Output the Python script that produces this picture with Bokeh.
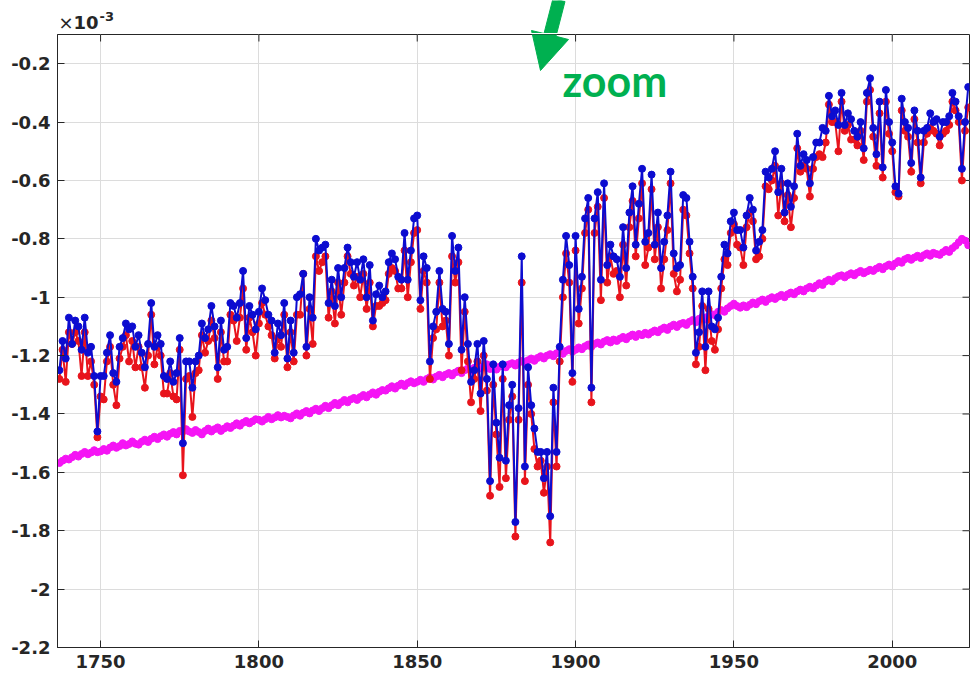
from bokeh.plotting import figure
from bokeh.layouts import column
from bokeh.models import Range1d, FixedTicker, Label, ColumnDataSource
from bokeh.embed import file_html
from bokeh.resources import INLINE

# ---------------- data (values in units of 1e-3) ----------------
years = list(range(1737, 2025))

blue_series = [
    # 1737-1810
    -1.25, -1.15, -1.21, -1.07, -1.16, -1.08, -1.10, -1.18, -1.07, -1.19,
    -1.17, -1.27, -1.46, -1.27, -1.27, -1.19, -1.13, -1.26, -1.29, -1.17,
    -1.14, -1.09, -1.11, -1.10, -1.17, -1.13, -1.19, -1.24, -1.16, -1.02,
    -1.17, -1.13, -1.16, -1.27, -1.28, -1.22, -1.29, -1.26, -1.14, -1.50,
    -1.22, -1.22, -1.31, -1.22, -1.20, -1.09, -1.14, -1.11, -1.03, -1.10,
    -1.24, -1.08, -1.18, -1.17, -1.02, -1.03, -1.07, -1.02, -0.91, -1.14,
    -1.03, -1.06, -1.11, -1.05, -0.97, -1.01, -1.06, -1.08, -1.19, -1.09,
    -1.13, -1.02, -1.21, -1.08,
    # 1811-1883
    -1.19, -1.00, -0.99, -0.92, -1.17, -1.00, -1.07, -0.80, -0.84, -0.83,
    -0.82, -1.02, -0.94, -1.03, -0.90, -1.00, -0.90, -0.83, -0.88, -0.93,
    -0.88, -0.94, -0.87, -1.00, -0.89, -1.08, -0.99, -0.96, -1.00, -0.98,
    -0.88, -0.85, -0.87, -0.93, -0.94, -0.78, -0.94, -0.84, -0.73, -0.72,
    -1.01, -0.86, -0.90, -1.22, -1.10, -1.05, -0.91, -1.04, -1.05, -1.16,
    -0.79, -0.91, -0.83, -1.18, -1.00, -1.16, -1.29, -1.25, -1.16, -1.33,
    -1.15, -1.28, -1.63, -1.23, -1.43, -1.55, -1.23, -1.56, -1.37, -1.30,
    -1.77, -1.38, -0.86,
    # 1884-1899
    -1.58, -1.24, -1.37, -1.45, -1.53, -1.53, -1.62, -1.53, -1.75, -1.31,
    -1.53, -1.17, -0.94, -0.79, -0.89, -1.26,
    # 1900-1954
    -0.79, -1.04, -0.93, -0.73, -0.66, -1.31, -0.73, -0.64, -0.94, -0.61,
    -0.89, -0.82, -0.86, -0.87, -0.93, -0.76, -0.90, -0.71, -0.62, -0.82,
    -0.68, -0.56, -0.81, -0.78, -0.58, -0.82, -0.71, -0.90, -0.81, -0.72,
    -0.57, -0.85, -0.90, -0.89, -0.65, -0.66, -0.81, -0.93, -1.19, -1.12,
    -0.98, -1.17, -0.98, -1.10, -1.11, -1.07, -0.93, -0.82, -0.85, -0.74,
    -0.71, -0.77, -0.77, -0.83, -0.72,
    # 1955-2024
    -0.66, -0.70, -0.84, -0.81, -0.77, -0.57, -0.59, -0.56, -0.50, -0.64,
    -0.56, -0.71, -0.61, -0.69, -0.62, -0.44, -0.55, -0.51, -0.53, -0.61,
    -0.52, -0.47, -0.47, -0.42, -0.43, -0.31, -0.38, -0.36, -0.41, -0.30,
    -0.41, -0.37, -0.39, -0.43, -0.45, -0.40, -0.49, -0.30, -0.25, -0.42,
    -0.51, -0.33, -0.555, -0.29, -0.40, -0.47, -0.62, -0.645, -0.32, -0.40,
    -0.42, -0.54, -0.36, -0.43, -0.59, -0.43, -0.42, -0.37, -0.40, -0.39,
    -0.45, -0.40, -0.40, -0.38, -0.30, -0.33, -0.38, -0.56, -0.40, -0.28,
]

red_series = [
    # 1737-1810
    -1.28, -1.18, -1.29, -1.12, -1.16, -1.12, -1.15, -1.27, -1.12, -1.27,
    -1.22, -1.30, -1.48, -1.34, -1.35, -1.22, -1.17, -1.30, -1.37, -1.21,
    -1.17, -1.13, -1.22, -1.15, -1.24, -1.17, -1.24, -1.31, -1.20, -1.06,
    -1.23, -1.17, -1.20, -1.33, -1.33, -1.26, -1.34, -1.35, -1.18, -1.61,
    -1.28, -1.27, -1.41, -1.26, -1.25, -1.13, -1.19, -1.15, -1.08, -1.14,
    -1.28, -1.12, -1.22, -1.22, -1.06, -1.08, -1.15, -1.07, -0.97, -1.18,
    -1.07, -1.12, -1.20, -1.09, -1.02, -1.06, -1.10, -1.13, -1.21, -1.14,
    -1.17, -1.06, -1.24, -1.12,
    # 1811-1883
    -1.22, -1.06, -1.06, -0.92, -1.20, -1.04, -1.16, -0.86, -0.91, -0.88,
    -0.86, -1.07, -0.98, -1.09, -0.95, -1.06, -0.95, -0.86, -0.92, -0.96,
    -0.93, -1.00, -0.92, -1.04, -0.95, -1.10, -1.03, -1.03, -1.02, -1.01,
    -0.92, -0.90, -0.91, -0.97, -0.97, -0.84, -1.00, -0.88, -0.78, -0.77,
    -1.04, -0.91, -0.95, -1.28, -1.14, -1.11, -0.95, -1.10, -1.08, -1.20,
    -0.86, -0.95, -0.88, -1.25, -1.05, -1.22, -1.36, -1.28, -1.22, -1.39,
    -1.20, -1.32, -1.68, -1.30, -1.47, -1.65, -1.28, -1.62, -1.42, -1.34,
    -1.82, -1.42, -0.95,
    # 1884-1899
    -1.63, -1.30, -1.40, -1.52, -1.58, -1.56, -1.67, -1.58, -1.84, -1.36,
    -1.58, -1.22, -1.00, -0.85, -0.95, -1.29,
    # 1900-1954
    -0.84, -1.09, -0.97, -0.78, -0.70, -1.36, -0.78, -0.69, -1.01, -0.66,
    -0.95, -0.86, -0.92, -0.91, -1.00, -0.82, -0.96, -0.76, -0.67, -0.86,
    -0.73, -0.61, -0.89, -0.83, -0.63, -0.87, -0.76, -0.97, -0.87, -0.77,
    -0.61, -0.92, -0.98, -0.94, -0.70, -0.72, -0.85, -0.97, -1.23, -1.17,
    -1.03, -1.25, -1.04, -1.15, -1.18, -1.11, -0.97, -0.87, -0.89, -0.78,
    -0.75, -0.82, -0.83, -0.89, -0.76,
    # 1955-2024
    -0.71, -0.74, -0.87, -0.86, -0.80, -0.62, -0.63, -0.60, -0.55, -0.72,
    -0.61, -0.74, -0.65, -0.76, -0.66, -0.49, -0.57, -0.55, -0.56, -0.655,
    -0.56, -0.52, -0.51, -0.52, -0.47, -0.34, -0.40, -0.40, -0.50, -0.33,
    -0.43, -0.41, -0.46, -0.46, -0.48, -0.43, -0.53, -0.33, -0.29, -0.45,
    -0.55, -0.37, -0.59, -0.33, -0.44, -0.50, -0.64, -0.655, -0.36, -0.43,
    -0.45, -0.57, -0.39, -0.47, -0.61, -0.47, -0.44, -0.42, -0.43, -0.44,
    -0.48, -0.44, -0.43, -0.41, -0.33, -0.36, -0.40, -0.60, -0.43, -0.35,
]

magenta_series = [
    # 1737-1750
    -1.568, -1.560, -1.553, -1.556, -1.548, -1.540, -1.546, -1.537, -1.530, -1.538,
    -1.532, -1.524, -1.531, -1.528,
    # 1751-1762
    -1.520, -1.526, -1.515, -1.508, -1.516, -1.510, -1.500, -1.508, -1.503, -1.494,
    -1.502, -1.505,
    # 1763-1776
    -1.495, -1.488, -1.496, -1.485, -1.478, -1.486, -1.476, -1.470, -1.478, -1.468,
    -1.462, -1.470, -1.458, -1.460,
    # 1777-1790
    -1.452, -1.460, -1.465, -1.455, -1.462, -1.470, -1.458, -1.450, -1.460, -1.452,
    -1.446, -1.458, -1.450, -1.442,
    # 1791-1800
    -1.448, -1.440, -1.432, -1.440, -1.430, -1.424, -1.432, -1.425, -1.418, -1.420,
    # 1801-1810
    -1.426, -1.418, -1.410, -1.418, -1.412, -1.404, -1.412, -1.406, -1.410, -1.415,
    # 1811-1820
    -1.405, -1.398, -1.406, -1.396, -1.390, -1.398, -1.388, -1.382, -1.390, -1.380,
    # 1821-1830
    -1.372, -1.380, -1.370, -1.362, -1.370, -1.360, -1.352, -1.360, -1.350, -1.345,
    # 1831-1840
    -1.352, -1.342, -1.335, -1.343, -1.333, -1.326, -1.334, -1.324, -1.318, -1.320,
    # 1841-1850
    -1.312, -1.305, -1.313, -1.303, -1.296, -1.304, -1.294, -1.288, -1.295, -1.290,
    # 1851-1861
    -1.283, -1.290, -1.280, -1.274, -1.282, -1.272, -1.266, -1.274, -1.265, -1.260,
    -1.268,
    # 1862-1872
    -1.258, -1.252, -1.260, -1.250, -1.244, -1.252, -1.242, -1.236, -1.244, -1.235,
    -1.230,
    # 1873-1881
    -1.246, -1.240, -1.248, -1.238, -1.232, -1.240, -1.230, -1.226, -1.234,
    # 1882-1892
    -1.224, -1.218, -1.226, -1.216, -1.210, -1.218, -1.208, -1.202, -1.210, -1.200,
    -1.195,
    # 1893-1900
    -1.202, -1.192, -1.186, -1.194, -1.184, -1.178, -1.186, -1.180,
    # 1901-1913
    -1.172, -1.178, -1.168, -1.162, -1.170, -1.160, -1.155, -1.162, -1.152, -1.147,
    -1.155, -1.145, -1.150,
    # 1914-1923
    -1.142, -1.136, -1.144, -1.134, -1.128, -1.136, -1.126, -1.130, -1.122, -1.128,
    # 1924-1934
    -1.120, -1.114, -1.120, -1.110, -1.104, -1.112, -1.100, -1.094, -1.102, -1.092,
    -1.088,
    # 1935-1944
    -1.095, -1.084, -1.078, -1.086, -1.074, -1.068, -1.076, -1.064, -1.058, -1.062,
    # 1945-1955
    -1.050, -1.044, -1.050, -1.038, -1.030, -1.022, -1.030, -1.036, -1.028, -1.034,
    -1.026,
    # 1956-1963
    -1.018, -1.024, -1.014, -1.008, -1.016, -1.006, -1.000, -1.006,
    # 1964-1973
    -0.998, -0.992, -1.000, -0.990, -0.984, -0.990, -0.980, -0.974, -0.980, -0.970,
    # 1974-1984
    -0.964, -0.970, -0.960, -0.952, -0.958, -0.946, -0.940, -0.946, -0.935, -0.928,
    -0.925,
    # 1985-1994
    -0.932, -0.924, -0.918, -0.925, -0.916, -0.910, -0.918, -0.912, -0.906, -0.910,
    # 1995-2005
    -0.902, -0.896, -0.904, -0.894, -0.888, -0.895, -0.884, -0.876, -0.882, -0.870,
    -0.865,
    # 2006-2015
    -0.872, -0.864, -0.858, -0.866, -0.856, -0.850, -0.858, -0.848, -0.852, -0.855,
    # 2016-2024
    -0.846, -0.838, -0.845, -0.832, -0.824, -0.812, -0.800, -0.806, -0.822,
]

x_ticks = [1750, 1800, 1850, 1900, 1950, 2000]
x_tick_labels = ["1750", "1800", "1850", "1900", "1950", "2000"]
y_ticks = [-2.2, -2.0, -1.8, -1.6, -1.4, -1.2, -1.0, -0.8, -0.6, -0.4, -0.2]
y_tick_labels = ["-2.2", "-2", "-1.8", "-1.6", "-1.4", "-1.2", "-1", "-0.8",
                 "-0.6", "-0.4", "-0.2"]
exponent_times = "\u00d7"
exponent_base = "10"
exponent_text = "-3"
annotation_text = "zoom"

assert len(blue_series) == len(years)
assert len(red_series) == len(years)
assert len(magenta_series) == len(years)

# ---------------- layout ----------------
W, H = 980, 677
HEAD = 33                 # header strip height (canvas px)
FL, FT, FW, FH = 57, 34, 912, 613   # axes box in page pixels
X0, X1 = 1736.4, 2024.4
Y0, Y1 = -2.2, -0.1

def px2x(px):
    return X0 + (px - FL) / FW * (X1 - X0)

def px2y(py):
    return Y1 - (py - FT) / FH * (Y1 - Y0)

AX = "#262626"
FONT = "DejaVu Sans"
GREEN = "#00b050"
MAG = "#f514f5"
RED = "#e8141c"
BLUE = "#0c0cd0"
TICK = 7  # px

# arrow outline in page pixels (decoration)
arrow_px = [(552.5, -2.0), (564.5, 1.0), (555.5, 35.8), (568.0, 39.0),
            (540.0, 70.0), (531.0, 30.0), (543.5, 33.0)]

# ---------------- header strip (above the axes box) ----------------
# its frame is aligned with the main frame (x from FL to FL+FW), so use page px
head = figure(width=W, height=HEAD, x_range=Range1d(FL, FL + FW),
              y_range=Range1d(HEAD, 0),
              output_backend="svg", toolbar_location=None,
              x_axis_type=None, y_axis_type=None,
              min_border_left=FL, min_border_right=W - FL - FW,
              min_border_top=0, min_border_bottom=0, outline_line_color=None,
              background_fill_color="white", border_fill_color="white")
head.patch([a for a, b in arrow_px], [b for a, b in arrow_px],
           fill_color=GREEN, line_color=GREEN, line_width=1)
head.add_layout(Label(x=58, y=22, text=exponent_times, text_font=FONT,
                      text_font_size="18px", text_color=AX,
                      text_baseline="alphabetic"))
head.add_layout(Label(x=73, y=22, text=exponent_base, text_font=FONT,
                      text_font_style="bold", text_font_size="18px",
                      text_color=AX, text_baseline="alphabetic"))
head.add_layout(Label(x=99, y=15.5, text=exponent_text, text_font=FONT,
                      text_font_style="bold", text_font_size="13px",
                      text_color=AX, text_baseline="alphabetic"))

# ---------------- main plot ----------------
p = figure(width=W, height=H - HEAD, x_range=Range1d(X0, X1),
           y_range=Range1d(Y0, Y1),
           output_backend="svg", toolbar_location=None,
           min_border_left=FL, min_border_right=W - FL - FW,
           min_border_top=FT - HEAD, min_border_bottom=H - FT - FH,
           background_fill_color="white", border_fill_color="white")

p.outline_line_color = AX
p.outline_line_width = 1

xt = FixedTicker(ticks=x_ticks)
yt = FixedTicker(ticks=y_ticks)

for ax, ticker, labels in ((p.xaxis[0], xt, x_tick_labels),
                           (p.yaxis[0], yt, y_tick_labels)):
    ax.ticker = ticker
    ax.axis_line_color = AX
    ax.axis_line_width = 1
    ax.major_tick_line_color = AX
    ax.major_tick_in = TICK
    ax.major_tick_out = 0
    ax.minor_tick_line_color = None
    ax.major_label_overrides = {v: s for v, s in zip(ticker.ticks, labels)}
    ax.major_label_text_font = FONT
    ax.major_label_text_font_style = "bold"
    ax.major_label_text_font_size = "18px"
    ax.major_label_text_color = AX
    ax.major_label_standoff = 7

p.xgrid.ticker = xt
p.ygrid.ticker = yt
p.grid.grid_line_color = "#dcdcdc"
p.grid.grid_line_width = 1

# inward ticks on the top and right edges of the box
dy = TICK / FH * (Y1 - Y0)
dx = TICK / FW * (X1 - X0)
p.segment(x0=x_ticks, y0=[Y1] * len(x_ticks), x1=x_ticks,
          y1=[Y1 - dy] * len(x_ticks), line_color=AX, line_width=1)
p.segment(x0=[X1] * len(y_ticks), y0=y_ticks, x1=[X1 - dx] * len(y_ticks),
          y1=y_ticks, line_color=AX, line_width=1)

src = ColumnDataSource(dict(year=years, blue=blue_series, red=red_series,
                            mag=magenta_series))

p.line("year", "mag", source=src, line_color=MAG, line_width=3)
p.scatter("year", "mag", source=src, size=7, fill_color=MAG, line_color=MAG)

p.line("year", "red", source=src, line_color=RED, line_width=2)
p.scatter("year", "red", source=src, size=7, fill_color=RED, line_color=RED)

p.line("year", "blue", source=src, line_color=BLUE, line_width=2)
p.scatter("year", "blue", source=src, size=7, fill_color=BLUE, line_color=BLUE)

# part of the green arrow that lies inside the box
p.patch([px2x(a) for a, b in arrow_px], [px2y(b) for a, b in arrow_px],
        fill_color=GREEN, line_color=GREEN, line_width=1)
p.add_layout(Label(x=px2x(562), y=px2y(80), text=annotation_text,
                   text_font="Lato", text_font_style="bold",
                   text_font_size="43px", text_color=GREEN,
                   text_baseline="alphabetic"))

layout = column(head, p, spacing=0)
open("out.html", "w").write(file_html(layout, INLINE))
